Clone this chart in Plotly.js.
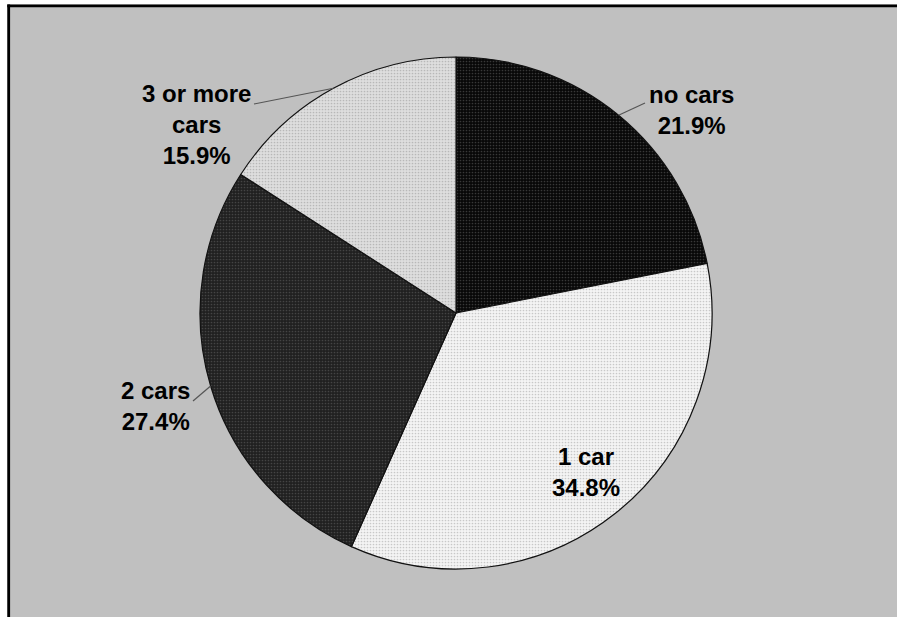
<!DOCTYPE html>
<html>
<head>
<meta charset="utf-8">
<script src="https://cdn.plot.ly/plotly-3.0.1.min.js"></script>
<style>html,body{margin:0;padding:0;background:#c0c0c0;overflow:hidden;}#chart{width:897px;height:617px;}</style>
</head>
<body>
<div id="chart"></div>
<script>
// ---- data ----
var categories = ["no cars", "1 car", "2 cars", "3 or more cars"];
var labelLines = ["no cars", "1 car", "2 cars", "3 or more<br>cars"];
var shares = [21.9, 34.8, 27.4, 15.9];
var percentText = ["21.9%", "34.8%", "27.4%", "15.9%"];

// ---- styles / layout ----
var W = 897, H = 617;
var cx = 456, cy = 313, R = 256;
var sliceColors = ["#080808", "#f4f4f4", "#202020", "#dedede"];
var dotColors = ["#383838", "#c8c8c8", "#444444", "#b8b8b8"];
// label centers (px) and leader-line end (px, null = no leader)
var labelPos = [[691, 110], [586, 472], [155, 406], [196, 125]];
var leaderEnd = [[645, 103], null, [193, 401], [254, 104]];

function px(x) { return x / W; }
function py(y) { return 1 - y / H; }

var trace = {
  type: "pie",
  labels: categories,
  values: shares,
  sort: false,
  direction: "clockwise",
  rotation: 0,
  textinfo: "none",
  hoverinfo: "label+percent",
  domain: {x: [px(cx - R), px(cx + R)], y: [py(cy + R), py(cy - R)]},
  marker: {
    colors: sliceColors,
    line: {color: "#111", width: 1.2},
    pattern: {
      shape: ".",
      fillmode: "replace",
      bgcolor: sliceColors,
      fgcolor: dotColors,
      size: 3,
      solidity: 0.25
    }
  },
  showlegend: false
};

var total = shares.reduce(function (a, b) { return a + b; }, 0);
var shapes = [
  // white strips outside the framed area
  {type: "rect", xref: "paper", yref: "paper", layer: "below",
   x0: 0, x1: px(7.3), y0: 0, y1: 1, fillcolor: "#ffffff", line: {width: 0, color: "rgba(0,0,0,0)"}},
  {type: "rect", xref: "paper", yref: "paper", layer: "below",
   x0: 0, x1: 1, y0: py(4.4), y1: 1, fillcolor: "#ffffff", line: {width: 0, color: "rgba(0,0,0,0)"}},
  {type: "line", xref: "paper", yref: "paper", layer: "below",
   x0: px(8.7), x1: px(8.7), y0: 0, y1: py(4.4),
   line: {color: "#000", width: 2.8}},
  {type: "line", xref: "paper", yref: "paper", layer: "below",
   x0: px(7.3), x1: 1, y0: py(5.8), y1: py(5.8),
   line: {color: "#000", width: 2.8}}
];
var annotations = [];
var cum = 0;
for (var i = 0; i < shares.length; i++) {
  var mid = (cum + shares[i] / 2) / total * 2 * Math.PI;
  cum += shares[i];
  var ax = cx + R * Math.sin(mid), ay = cy - R * Math.cos(mid);
  if (leaderEnd[i]) {
    shapes.push({
      type: "line", xref: "paper", yref: "paper",
      x0: px(ax), y0: py(ay), x1: px(leaderEnd[i][0]), y1: py(leaderEnd[i][1]),
      line: {color: "#555", width: 1.2}
    });
  }
  annotations.push({
    xref: "paper", yref: "paper",
    x: px(labelPos[i][0]), y: py(labelPos[i][1]),
    xanchor: "center", yanchor: "middle", align: "center",
    showarrow: false,
    text: "<b>" + labelLines[i] + "<br>" + percentText[i] + "</b>",
    font: {family: "Liberation Sans, Arial, sans-serif", size: 24, color: "#000"}
  });
}

var layout = {
  width: W, height: H,
  margin: {l: 0, r: 0, t: 0, b: 0, pad: 0},
  paper_bgcolor: "#c0c0c0",
  shapes: shapes,
  annotations: annotations
};

Plotly.newPlot("chart", [trace], layout, {displayModeBar: false, staticPlot: true});
</script>
</body>
</html>
